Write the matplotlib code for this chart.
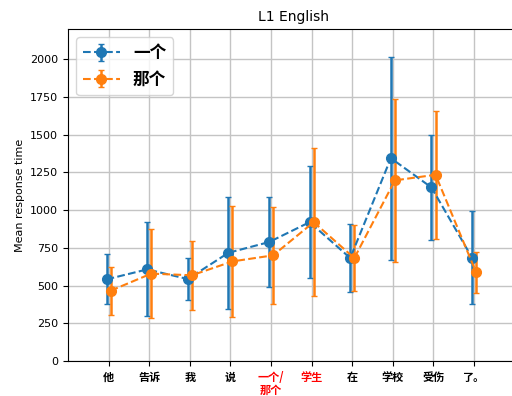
import matplotlib.pyplot as plt
import numpy as np

plt.rcParams['font.family'] = ['DejaVu Sans']

words = ['他', '告诉', '我', '说', '一个/\n那个', '学生', '在', '学校', '受伤', '了。']
red_words = [4, 5]

yige_mean = [541, 607, 543, 717, 788, 920, 682, 1344, 1150, 684]
yige_err = [165, 312, 137, 370, 300, 370, 228, 673, 350, 308]
nage_mean = [466, 579, 568, 660, 700, 920, 682, 1197, 1234, 587]
nage_err = [159, 296, 228, 367, 320, 490, 217, 540, 424, 136]

fig = plt.figure(figsize=(5.12, 3.96), dpi=100)
# right edge of the axes runs past the figure border
ax = fig.add_axes([68 / 512, 35 / 396, 452 / 512, 332 / 396])

x = np.arange(len(words))
ax.errorbar(x - 0.05, yige_mean, yerr=yige_err, fmt='o--', capsize=2,
            elinewidth=1.8, markersize=7, color='#1f77b4', label='一个', zorder=3)
ax.errorbar(x + 0.05, nage_mean, yerr=nage_err, fmt='o--', capsize=2,
            elinewidth=1.8, markersize=7, color='#ff7f0e', label='那个', zorder=3)

ax.set_xlim(-1, 10.13)
ax.set_ylim(0, 2200)
ax.set_yticks(np.arange(0, 2001, 250))
ax.set_xticks(x)
ax.set_xticklabels(words, family=['Noto Sans CJK SC'], fontweight='bold',
                   fontsize=8, linespacing=1.0)
for i, lab in enumerate(ax.get_xticklabels()):
    if i in red_words:
        lab.set_color('red')
ax.tick_params(axis='y', labelsize=8)
ax.grid(True, color='#c4c4c4', linewidth=1.0)
ax.set_axisbelow(True)
ax.spines['right'].set_visible(False)

ax.set_title('L1 English', fontsize=10)
ax.set_ylabel('Mean response time', fontsize=8)
ax.legend(loc='upper left', prop={'family': 'Noto Sans CJK SC',
                                  'weight': 'bold', 'size': 12},
          handlelength=2.2)

plt.savefig('out.png', dpi=100)
